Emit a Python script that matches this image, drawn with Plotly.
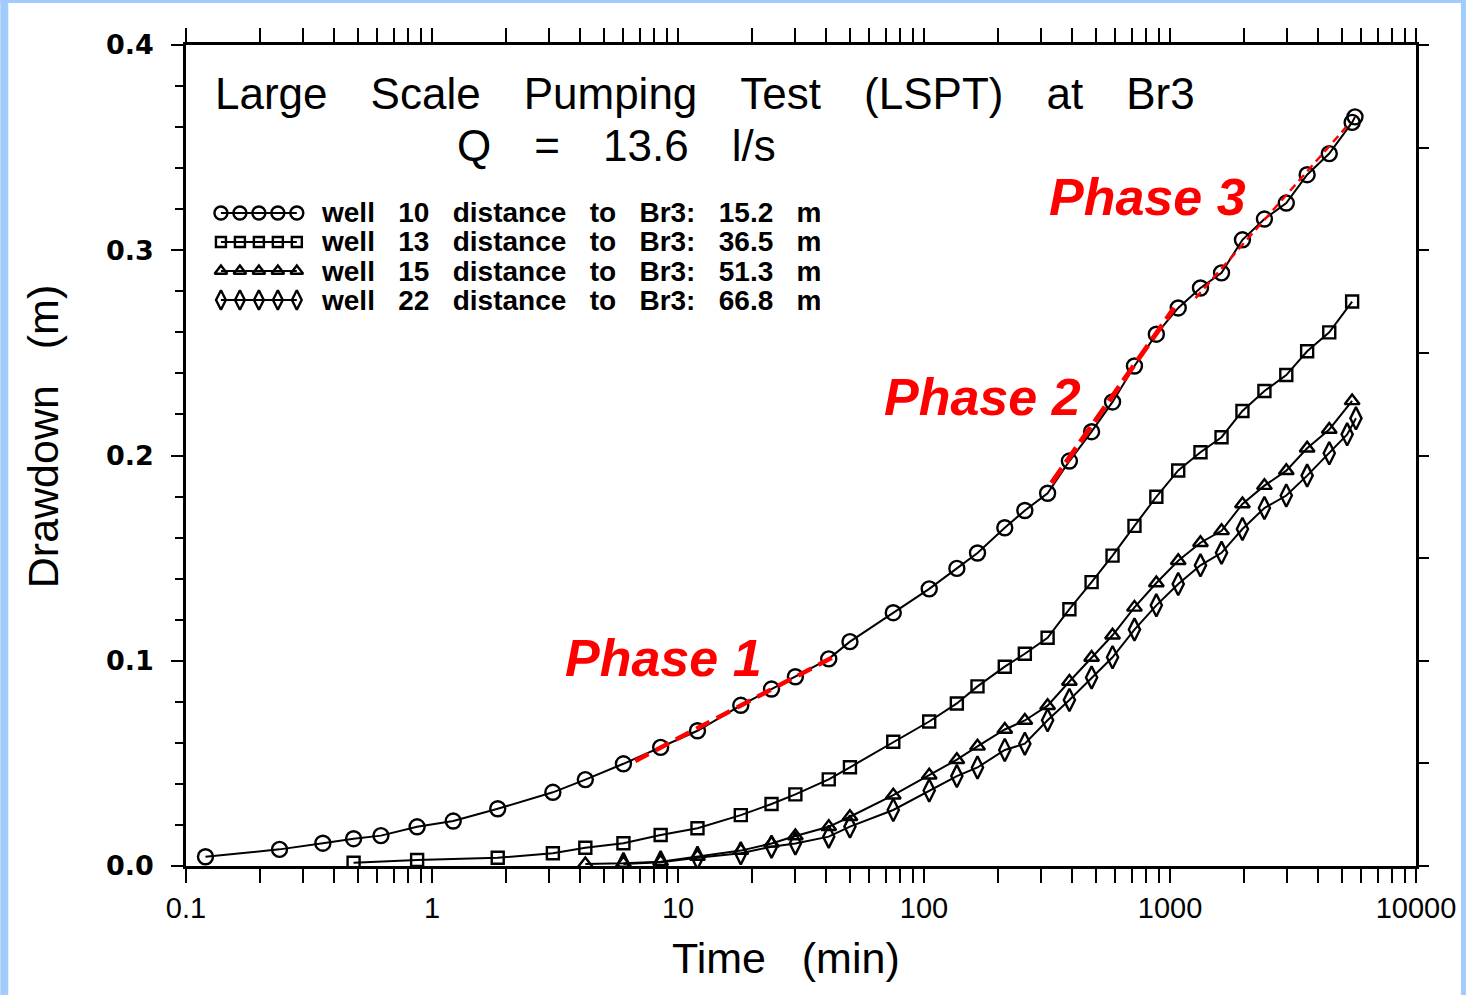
import numpy as np
import plotly.graph_objects as go

# ---------------- data: drawdown (m) vs time (min) ----------------
t_w10 = [0.12, 0.24, 0.36, 0.48, 0.62, 0.87, 1.22, 1.85, 3.1, 4.2, 6.0, 8.5, 12, 18, 24,
         30, 41, 50, 75, 105, 136, 165, 213, 257, 318, 390, 480, 584, 717, 880, 1080,
         1330, 1620, 1970, 2420, 2970, 3610, 4440, 5500, 5650]
s_w10 = [0.0045, 0.0081, 0.0111, 0.0133, 0.0148, 0.0191, 0.0219, 0.0279, 0.0359, 0.0421,
         0.0498, 0.0578, 0.0659, 0.0783, 0.0862, 0.0922, 0.1009, 0.1093, 0.1234, 0.1350,
         0.1450, 0.1525, 0.1648, 0.1732, 0.1816, 0.1973, 0.2116, 0.2261, 0.2436, 0.2591,
         0.2719, 0.2816, 0.2890, 0.3051, 0.3152, 0.3230, 0.3368, 0.3471, 0.3623, 0.3650]

t_w13 = [0.48, 0.87, 1.85, 3.1, 4.2, 6.0, 8.5, 12, 18, 24, 30, 41, 50, 75, 105, 136, 165,
         213, 257, 318, 390, 480, 584, 717, 880, 1080, 1330, 1620, 1970, 2420, 2970, 3610,
         4440, 5500]
s_w13 = [0.0016, 0.0029, 0.0040, 0.0062, 0.0089, 0.0111, 0.0151, 0.0184, 0.0248, 0.0302,
         0.0349, 0.0422, 0.0481, 0.0605, 0.0704, 0.0792, 0.0875, 0.0971, 0.1034, 0.1112,
         0.1251, 0.1383, 0.1512, 0.1657, 0.1799, 0.1927, 0.2016, 0.2089, 0.2217, 0.2314,
         0.2392, 0.2508, 0.2600, 0.2750]

t_w15 = [4.2, 6.0, 8.5, 12, 18, 24, 30, 41, 50, 75, 105, 136, 165, 213, 257, 318, 390,
         480, 584, 717, 880, 1080, 1330, 1620, 1970, 2420, 2970, 3610, 4440, 5500]
s_w15 = [0.0010, 0.0013, 0.0021, 0.0046, 0.0075, 0.0110, 0.0146, 0.0191, 0.0240, 0.0345,
         0.0442, 0.0518, 0.0583, 0.0665, 0.0709, 0.0781, 0.0899, 0.1016, 0.1124, 0.1260,
         0.1379, 0.1487, 0.1575, 0.1633, 0.1764, 0.1853, 0.1926, 0.2035, 0.2127, 0.2266]

t_w22 = [6.0, 8.5, 12, 18, 24, 30, 41, 50, 75, 105, 136, 165, 213, 257, 318, 390, 480,
         584, 717, 880, 1080, 1330, 1620, 1970, 2420, 2970, 3610, 4440, 5250, 5700]
s_w22 = [0.0010, 0.0018, 0.0040, 0.0062, 0.0094, 0.0110, 0.0143, 0.0192, 0.0273, 0.0368,
         0.0438, 0.0480, 0.0565, 0.0596, 0.0710, 0.0809, 0.0918, 0.1017, 0.1152, 0.1270,
         0.1374, 0.1465, 0.1526, 0.1642, 0.1744, 0.1805, 0.1902, 0.2011, 0.2103, 0.2181]

# straight-line fits for the three flow phases (well 10)
phase1_t = [6.7, 43]
phase1_s = [0.0512, 0.1020]
phase2_t = [330, 1040]
phase2_s = [0.1866, 0.2719]
phase3_t = [1270, 5200]
phase3_s = [0.2767, 0.3600]

well_names = ["10", "13", "15", "22"]
well_dist = ["15.2", "36.5", "51.3", "66.8"]

x_tickvals = [0.1, 1, 10, 100, 1000, 10000]
x_ticktext = ["0.1", "1", "10", "100", "1000", "10000"]

# ---------------- styling ----------------
W, H = 1468, 995
ML, MR, MT, MB = 186, 50, 45, 129
PW, PH = W - ML - MR, H - MT - MB

def px_to_paper(px, py):
    return (px - ML) / PW, (H - MB - py) / PH

symbols = ["circle-open", "square-open", "triangle-up-open", "diamond-tall-open"]
sizes = [15, 12, 13, 16]
series = [(t_w10, s_w10), (t_w13, s_w13), (t_w15, s_w15), (t_w22, s_w22)]

fig = go.Figure()

for (t, s), sym, sz in zip(series, symbols, sizes):
    fig.add_trace(go.Scatter(
        x=t, y=s, mode="lines+markers",
        line=dict(color="black", width=2),
        marker=dict(symbol=sym, size=sz, color="black", line=dict(width=2.4, color="black")),
        showlegend=False,
    ))

for t, s, w, d in [(phase1_t, phase1_s, 4.5, "15px,8px"),
                   (phase2_t, phase2_s, 5, "18px,7px"),
                   (phase3_t, phase3_s, 2.5, "8px,5px")]:
    fig.add_trace(go.Scatter(x=t, y=s, mode="lines",
                             line=dict(color="#ff0000", width=w, dash=d),
                             showlegend=False))

# legend keys: five markers in a row on an overlay axis
key_x0, key_x1 = px_to_paper(221, 0)[0], px_to_paper(297, 0)[0]
row_py = [213, 242, 271, 300]
key_xs = np.linspace(key_x0, key_x1, 5)
for i, (sym, py) in enumerate(zip(symbols, row_py)):
    yk = px_to_paper(0, py)[1]
    fig.add_trace(go.Scatter(
        x=key_xs, y=[yk] * 5, xaxis="x2", yaxis="y2", mode="lines+markers",
        line=dict(color="black", width=2),
        marker=dict(symbol=sym, size=sizes[i] - 2, color="black",
                    line=dict(width=2.4, color="black")),
        showlegend=False, hoverinfo="skip"))
    xt, _ = px_to_paper(319, 0)
    sp = "\u00a0\u00a0\u00a0"
    fig.add_annotation(
        xref="paper", yref="paper", x=xt, y=yk, xanchor="left", yanchor="middle",
        text=f"<b>well{sp}{well_names[i]}{sp}distance{sp}to{sp}Br3:{sp}{well_dist[i]}{sp}m</b>",
        showarrow=False, font=dict(family="Liberation Sans, Arial", size=28, color="black"))

# right-hand axis carries its own tick spacing
fig.add_trace(go.Scatter(x=[None], y=[None], yaxis="y3", showlegend=False))

gap = "\u2002\u00a0\u2009"
x1, y1 = px_to_paper(706, 93)
fig.add_annotation(xref="paper", yref="paper", x=x1, y=y1, xanchor="center", yanchor="middle",
                   showarrow=False,
                   text=gap.join(["Large", "Scale", "Pumping", "Test", "(LSPT)", "at", "Br3"]),
                   font=dict(family="Liberation Sans, Arial", size=44, color="black"))
x2, y2 = px_to_paper(617, 145)
fig.add_annotation(xref="paper", yref="paper", x=x2, y=y2, xanchor="center", yanchor="middle",
                   showarrow=False,
                   text=gap.join(["Q", "=", "13.6", "l/s"]),
                   font=dict(family="Liberation Sans, Arial", size=44, color="black"))

for label, (px, py) in [("Phase 1", (664, 658)), ("Phase 2", (984, 397)), ("Phase 3", (1149, 197))]:
    xp, yp = px_to_paper(px, py)
    fig.add_annotation(xref="paper", yref="paper", x=xp, y=yp, xanchor="center",
                       yanchor="middle", showarrow=False,
                       text=f"<b><i>{label}</i></b>",
                       font=dict(family="Liberation Sans, Arial", size=52, color="#ff0000"))

# axis titles
axis_font = dict(family="Liberation Sans, Arial", size=43, color="black")
xa, ya = px_to_paper(787, 958)
fig.add_annotation(xref="paper", yref="paper", x=xa, y=ya, xanchor="center", yanchor="middle",
                   showarrow=False, text="Time\u00a0\u00a0\u00a0(min)", font=axis_font)
xa, ya = px_to_paper(43, 437)
fig.add_annotation(xref="paper", yref="paper", x=xa, y=ya, xanchor="center", yanchor="middle",
                   showarrow=False, textangle=-90, text="Drawdown\u00a0\u00a0\u00a0(m)",
                   font=axis_font)

# light blue frame around the page
blue = "#a0cbfb"
for x0, y0, x1_, y1_ in [(0, 0, 8, H), (0, 0, W, 3), (W - 5, 0, W, H)]:
    a0, b0 = px_to_paper(x0, y1_)
    a1, b1 = px_to_paper(x1_, y0)
    fig.add_shape(type="rect", xref="paper", yref="paper", x0=a0, y0=b0, x1=a1, y1=b1,
                  fillcolor=blue, line=dict(width=0), layer="below")

fig.update_layout(
    width=W, height=H,
    margin=dict(l=ML, r=MR, t=MT, b=MB),
    paper_bgcolor="white", plot_bgcolor="white",
    showlegend=False,
    xaxis=dict(
        type="log", range=[-1, 4], tickvals=x_tickvals, ticktext=x_ticktext,
        ticks="outside", ticklen=14, tickwidth=2, tickcolor="black",
        minor=dict(ticks="outside", ticklen=9, tickwidth=2, tickcolor="black",
                   dtick="D1", showgrid=False),
        showline=True, linewidth=2.5, linecolor="black", mirror="allticks",
        showgrid=False, zeroline=False,
        tickfont=dict(family="Liberation Sans, Arial", size=29, color="black"),
    ),
    yaxis=dict(
        range=[0, 0.4], dtick=0.1, tickformat=".1f",
        ticks="outside", ticklen=12, tickwidth=2, tickcolor="black",
        minor=dict(ticks="outside", ticklen=8, tickwidth=2, tickcolor="black",
                   dtick=0.02, showgrid=False),
        showline=True, linewidth=2.5, linecolor="black", mirror=False,
        showgrid=False, zeroline=False, ticklabelstandoff=12,
        tickfont=dict(family="DejaVu Sans", size=27, color="black", weight="bold"),
    ),
    yaxis3=dict(
        range=[0, 0.4], dtick=0.05, overlaying="y", side="right", anchor="x",
        ticks="outside", ticklen=10, tickwidth=2, tickcolor="black",
        showticklabels=False, showline=True, linewidth=2.5, linecolor="black",
        showgrid=False, zeroline=False,
    ),
    xaxis2=dict(range=[0, 1], overlaying="x", anchor="y2", visible=False),
    yaxis2=dict(range=[0, 1], overlaying="y", anchor="x2", visible=False),
)

fig.write_html("out.html")
